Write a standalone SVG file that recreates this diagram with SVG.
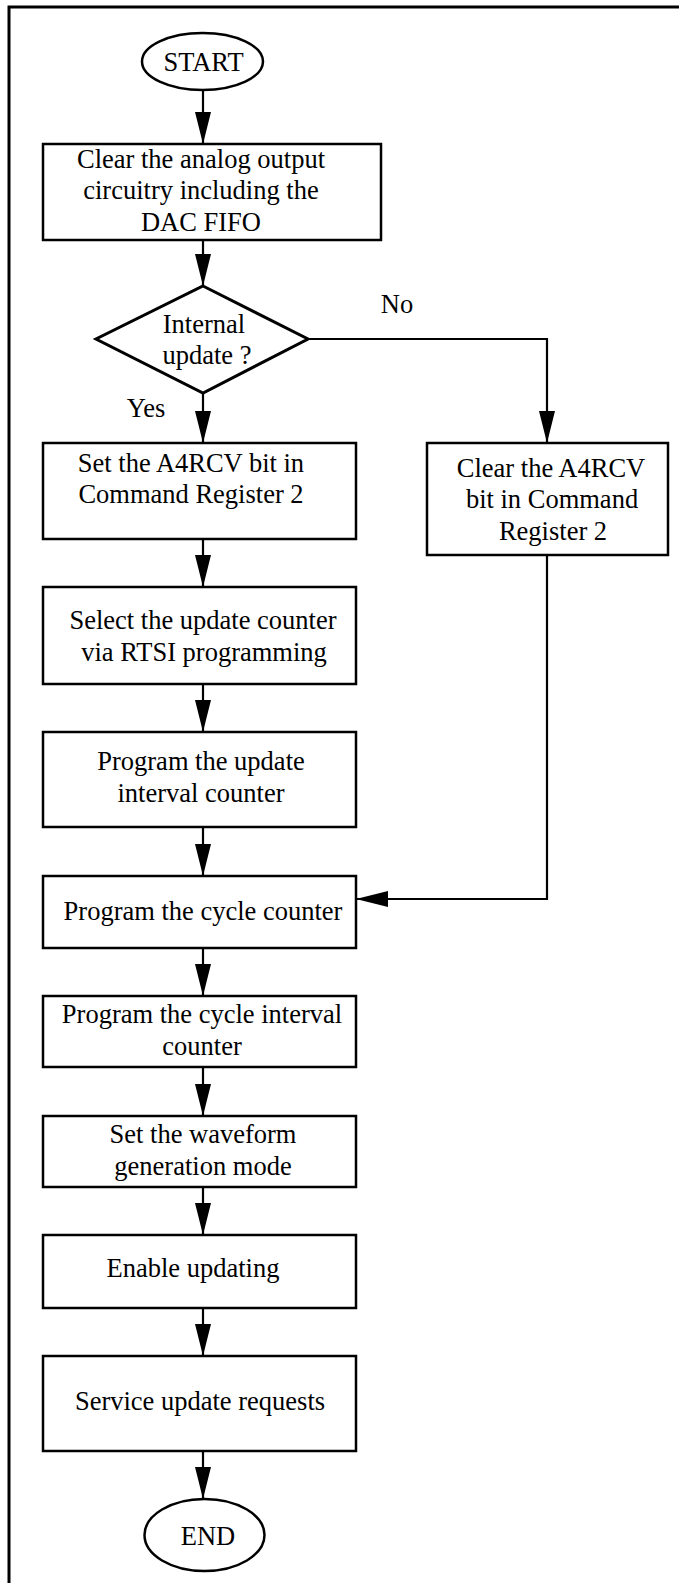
<svg xmlns="http://www.w3.org/2000/svg" width="679" height="1583" viewBox="0 0 679 1583">
<style>
  .bg { fill: #ffffff; }
  .frame { fill: none; stroke: #000; stroke-width: 3; }
  .box { fill: #fff; stroke: #000; stroke-width: 2.5; }
  .term { fill: #fff; stroke: #000; stroke-width: 2.5; }
  .dec { fill: #fff; stroke: #000; stroke-width: 3; }
  .conn { fill: none; stroke: #000; stroke-width: 2.2; }
  text { font-family: "Liberation Serif", "Times New Roman", serif; font-size: 26.5px; fill: #000; text-anchor: middle; }
</style>
<defs>
  <marker id="arrow" markerUnits="userSpaceOnUse" markerWidth="32" markerHeight="16" refX="32" refY="8" orient="auto" viewBox="0 0 32 16">
    <path d="M0,0 L32,8 L0,16 Z" fill="#000"/>
  </marker>
</defs>
<rect class="bg" x="0" y="0" width="679" height="1583"/>
<path class="frame" d="M9,1583 V7 H679"/>

<g id="connectors">
  <path class="conn" d="M203,90 V144" marker-end="url(#arrow)"/>
  <path class="conn" d="M203,240 V286" marker-end="url(#arrow)"/>
  <path class="conn" d="M203,393 V443" marker-end="url(#arrow)"/>
  <path class="conn" d="M308,339 H547 V443" marker-end="url(#arrow)"/>
  <path class="conn" d="M203,539 V587" marker-end="url(#arrow)"/>
  <path class="conn" d="M203,684 V732" marker-end="url(#arrow)"/>
  <path class="conn" d="M203,827 V876" marker-end="url(#arrow)"/>
  <path class="conn" d="M547,555 V899 H356" marker-end="url(#arrow)"/>
  <path class="conn" d="M203,948 V996" marker-end="url(#arrow)"/>
  <path class="conn" d="M203,1067 V1116" marker-end="url(#arrow)"/>
  <path class="conn" d="M203,1187 V1235" marker-end="url(#arrow)"/>
  <path class="conn" d="M203,1308 V1356" marker-end="url(#arrow)"/>
  <path class="conn" d="M203,1451 V1499" marker-end="url(#arrow)"/>
  <text x="397" y="313">No</text>
  <text x="146" y="417">Yes</text>
</g>

<g id="start">
  <ellipse class="term" cx="202.5" cy="61.5" rx="60.5" ry="28.5"/>
  <text x="203.5" y="71">START</text>
</g>

<g id="clear-analog">
  <rect class="box" x="43" y="144" width="338" height="96"/>
  <text x="201" y="168">Clear the analog output</text>
  <text x="201" y="199">circuitry including the</text>
  <text x="201" y="231">DAC FIFO</text>
</g>

<g id="internal-update">
  <polygon class="dec" points="203,286 308,339 203,393 96,339"/>
  <text x="204" y="333">Internal</text>
  <text x="207" y="364">update ?</text>
</g>

<g id="set-a4rcv">
  <rect class="box" x="43" y="443" width="313" height="96"/>
  <text x="191" y="472">Set the A4RCV bit in</text>
  <text x="191" y="503">Command Register 2</text>
</g>

<g id="clear-a4rcv">
  <rect class="box" x="427" y="443" width="241" height="112"/>
  <text x="551" y="477">Clear the A4RCV</text>
  <text x="552" y="508">bit in Command</text>
  <text x="553" y="540">Register 2</text>
</g>

<g id="select-counter">
  <rect class="box" x="43" y="587" width="313" height="97"/>
  <text x="203" y="629">Select the update counter</text>
  <text x="204" y="661">via RTSI programming</text>
</g>

<g id="program-update-interval">
  <rect class="box" x="43" y="732" width="313" height="95"/>
  <text x="201" y="770">Program the update</text>
  <text x="201" y="802">interval counter</text>
</g>

<g id="program-cycle">
  <rect class="box" x="43" y="876" width="313" height="72"/>
  <text x="203" y="920">Program the cycle counter</text>
</g>

<g id="program-cycle-interval">
  <rect class="box" x="43" y="996" width="313" height="71"/>
  <text x="202" y="1023">Program the cycle interval</text>
  <text x="202" y="1055">counter</text>
</g>

<g id="waveform-mode">
  <rect class="box" x="43" y="1116" width="313" height="71"/>
  <text x="203" y="1143">Set the waveform</text>
  <text x="203" y="1175">generation mode</text>
</g>

<g id="enable-updating">
  <rect class="box" x="43" y="1235" width="313" height="73"/>
  <text x="193" y="1277">Enable updating</text>
</g>

<g id="service-requests">
  <rect class="box" x="43" y="1356" width="313" height="95"/>
  <text x="200" y="1410">Service update requests</text>
</g>

<g id="end">
  <ellipse class="term" cx="204.5" cy="1535" rx="60" ry="36"/>
  <text x="208" y="1545">END</text>
</g>
</svg>
